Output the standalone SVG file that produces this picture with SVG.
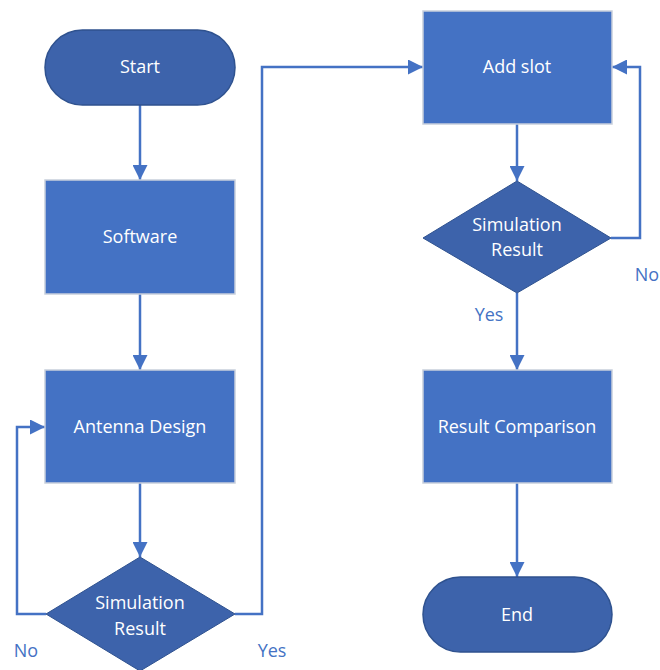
<svg xmlns="http://www.w3.org/2000/svg" width="660" height="670" viewBox="0 0 660 670">
<style>
.term{fill:#3d63ab;stroke:#2f528f;stroke-width:1.5}
.proc{fill:#4472c4;stroke:#c8cfdc;stroke-width:1.5}
.dec{fill:#3d63ab;stroke:#2f528f;stroke-width:1}
.t{font-family:"Open Sans","Liberation Sans",sans-serif;font-size:18px;fill:#ffffff;text-anchor:middle;dominant-baseline:central}
.lbl{font-family:"Open Sans","Liberation Sans",sans-serif;font-size:18px;fill:#4472c4;text-anchor:middle;dominant-baseline:central}
.c{fill:none;stroke:#4472c4;stroke-width:2.5}
</style>
<defs>
<marker id="ah" viewBox="0 0 10 10" refX="10" refY="5" markerWidth="6" markerHeight="6" markerUnits="strokeWidth" orient="auto">
<path d="M0,0 L10,5 L0,10 Z" fill="#4472c4"/>
</marker>
</defs>
<g id="connectors">
<path class="c" d="M140,105 V180" marker-end="url(#ah)"/>
<path class="c" d="M140,294 V370" marker-end="url(#ah)"/>
<path class="c" d="M140,483 V557" marker-end="url(#ah)"/>
<path class="c" d="M46,614 H17 V427 H45" marker-end="url(#ah)"/>
<path class="c" d="M235,614 H262 V67 H423" marker-end="url(#ah)"/>
<path class="c" d="M517,124 V181" marker-end="url(#ah)"/>
<path class="c" d="M611,238 H640 V67 H612" marker-end="url(#ah)"/>
<path class="c" d="M517,293 V370" marker-end="url(#ah)"/>
<path class="c" d="M517,483 V577" marker-end="url(#ah)"/>
</g>
<g id="start"><rect class="term" x="45" y="30" width="190" height="75" rx="37.5"/><text class="t" x="140" y="66">Start</text></g>
<g id="software"><rect class="proc" x="45" y="180" width="190" height="114"/><text class="t" x="140" y="236">Software</text></g>
<g id="antenna"><rect class="proc" x="45" y="370" width="190" height="113"/><text class="t" x="140" y="426">Antenna Design</text></g>
<g id="sim1"><polygon class="dec" points="140,557 235,614 140,671 46,614"/><text class="t" x="140" y="602">Simulation</text><text class="t" x="140" y="628">Result</text></g>
<g id="addslot"><rect class="proc" x="423" y="11" width="189" height="113"/><text class="t" x="517" y="66">Add slot</text></g>
<g id="sim2"><polygon class="dec" points="517,181 611,238 517,293 423,238"/><text class="t" x="517" y="224">Simulation</text><text class="t" x="517" y="249">Result</text></g>
<g id="compare"><rect class="proc" x="423" y="370" width="189" height="113"/><text class="t" x="517" y="426">Result Comparison</text></g>
<g id="end"><rect class="term" x="423" y="577" width="189" height="75" rx="37.5"/><text class="t" x="517" y="614">End</text></g>
<g id="labels">
<text class="lbl" x="26" y="650">No</text>
<text class="lbl" x="272" y="650">Yes</text>
<text class="lbl" x="647" y="274">No</text>
<text class="lbl" x="489" y="314">Yes</text>
</g>
</svg>
